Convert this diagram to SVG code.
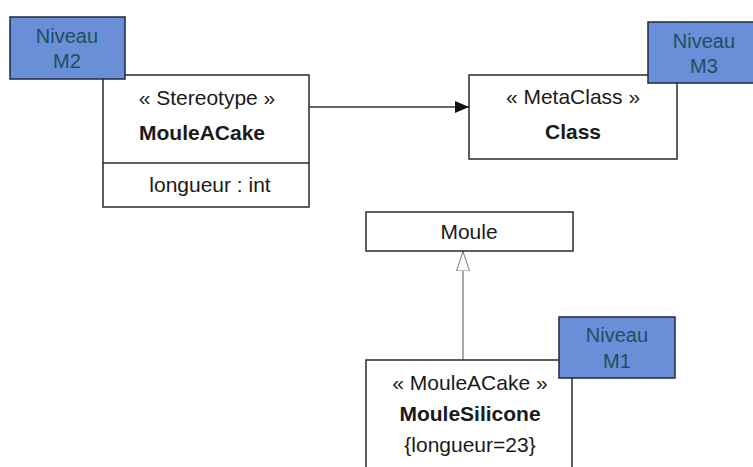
<svg xmlns="http://www.w3.org/2000/svg" width="753" height="467" viewBox="0 0 753 467">
<style>
.box{fill:#fff;stroke:#2a2a2a;stroke-width:1.5}
.lvl{fill:#6a8fd8;stroke:#1e2a40;stroke-width:1.5}
.t{font-family:"Liberation Sans",Arial,sans-serif;font-size:21px;fill:#1a1a1a;text-anchor:middle}
.b{font-weight:bold}
.lt{font-family:"Liberation Sans",Arial,sans-serif;font-size:20px;fill:#1d4f5c;text-anchor:middle}
</style>
<defs>
<marker id="filled" viewBox="0 0 14 12" refX="14" refY="6" markerWidth="14" markerHeight="12" markerUnits="userSpaceOnUse" orient="auto">
<path d="M0,0 L14,6 L0,12 Z" fill="#111"/>
</marker>
<marker id="hollow" viewBox="0 0 20 14" refX="20" refY="7" markerWidth="20" markerHeight="14" markerUnits="userSpaceOnUse" orient="auto">
<path d="M0,0.5 L19.5,7 L0,13.5 Z" fill="#fff" stroke="#6f7f7f" stroke-width="1"/>
</marker>
</defs>
<rect width="753" height="467" fill="#fff"/>
<g id="connectors">
<line x1="309" y1="107" x2="469" y2="107" stroke="#333" stroke-width="1.3" marker-end="url(#filled)"/>
<line x1="463" y1="360" x2="463" y2="251" stroke="#6f7f7f" stroke-width="1.3" marker-end="url(#hollow)"/>
</g>
<g id="mouleacake">
<rect class="box" x="103" y="75" width="206" height="132"/>
<line x1="103" y1="163" x2="309" y2="163" stroke="#2a2a2a" stroke-width="1.3"/>
<text class="t" x="207" y="105">« Stereotype »</text>
<text class="t b" x="202" y="140">MouleACake</text>
<text class="t" x="210" y="192">longueur : int</text>
</g>
<g id="niveau-m2">
<rect class="lvl" x="10" y="17" width="115" height="62"/>
<text class="lt" x="67" y="43">Niveau</text>
<text class="lt" x="67" y="68">M2</text>
</g>
<g id="class">
<rect class="box" x="469" y="75" width="208" height="84"/>
<text class="t" x="573" y="104">« MetaClass »</text>
<text class="t b" x="573" y="139">Class</text>
</g>
<g id="niveau-m3">
<rect class="lvl" x="648" y="22" width="112" height="61"/>
<text class="lt" x="704" y="48">Niveau</text>
<text class="lt" x="704" y="73">M3</text>
</g>
<g id="moule">
<rect class="box" x="366" y="212" width="207" height="39"/>
<text class="t" x="469" y="239">Moule</text>
</g>
<g id="moulesilicone">
<rect class="box" x="366" y="360" width="206" height="120"/>
<text class="t" x="470" y="390">« MouleACake »</text>
<text class="t b" x="470" y="421">MouleSilicone</text>
<text class="t" x="470" y="452">{longueur=23}</text>
</g>
<g id="niveau-m1">
<rect class="lvl" x="559" y="317" width="116" height="61"/>
<text class="lt" x="617" y="342">Niveau</text>
<text class="lt" x="617" y="368">M1</text>
</g>
</svg>
